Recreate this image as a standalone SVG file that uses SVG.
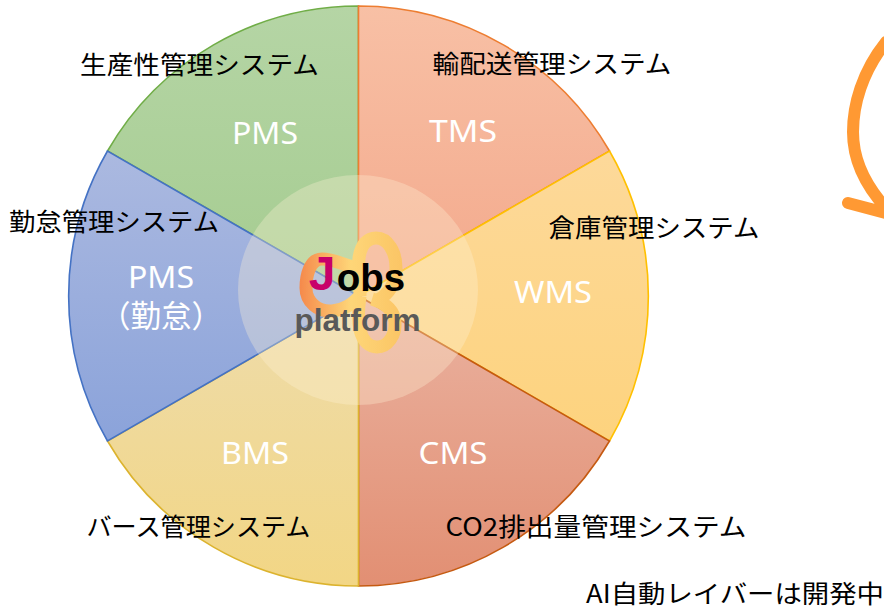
<svg xmlns="http://www.w3.org/2000/svg" width="884" height="610" viewBox="0 0 884 610">
<style>
.l{font-family:"Noto Sans CJK JP","Liberation Sans",sans-serif;font-size:25px;fill:#000;text-anchor:middle}
.s{font-family:"Noto Sans","Noto Sans CJK JP",sans-serif;font-size:31px;fill:#fff;text-anchor:middle}
.w{stroke-width:1.6}
</style>
<defs>
<linearGradient id="g1" x1="0" y1="0" x2="0" y2="1"><stop offset="0" stop-color="#b5d5a5"/><stop offset="1" stop-color="#a5cc90"/></linearGradient>
<linearGradient id="g2" x1="0" y1="0" x2="0" y2="1"><stop offset="0" stop-color="#f8c0a5"/><stop offset="1" stop-color="#f3a98c"/></linearGradient>
<linearGradient id="g3" x1="0" y1="0" x2="0" y2="1"><stop offset="0" stop-color="#fdd99a"/><stop offset="1" stop-color="#fdd37e"/></linearGradient>
<linearGradient id="g4" x1="0" y1="0" x2="0" y2="1"><stop offset="0" stop-color="#eab2a0"/><stop offset="1" stop-color="#e28f73"/></linearGradient>
<linearGradient id="g5" x1="0" y1="0" x2="0" y2="1"><stop offset="0" stop-color="#eedcab"/><stop offset="1" stop-color="#f2d685"/></linearGradient>
<linearGradient id="g6" x1="0" y1="0" x2="0" y2="1"><stop offset="0" stop-color="#abb9e0"/><stop offset="1" stop-color="#8ba3da"/></linearGradient>
<linearGradient id="kn" gradientUnits="userSpaceOnUse" x1="300" y1="0" x2="402" y2="0"><stop offset="0" stop-color="#f58a4c"/><stop offset="0.5" stop-color="#fed678"/><stop offset="1" stop-color="#fbc565"/></linearGradient>
<filter id="soft" x="-10%" y="-10%" width="120%" height="120%"><feGaussianBlur stdDeviation="0.7"/></filter>
</defs>
<g id="pie">
<path id="seg-pms" class="w" d="M358.500 296V6A290 290 0 0 0 107.500 151Z" fill="url(#g1)" stroke="#70ad47"/>
<path id="seg-tms" class="w" d="M358.500 296V6A290 290 0 0 1 609.500 151Z" fill="url(#g2)" stroke="#ed7d31"/>
<path id="seg-wms" class="w" d="M358.500 296L609.500 151A290 290 0 0 1 609.500 441Z" fill="url(#g3)" stroke="#ffc000"/>
<path id="seg-cms" class="w" d="M358.500 296L609.500 441A290 290 0 0 1 358.500 586Z" fill="url(#g4)" stroke="#c55a11"/>
<path id="seg-bms" class="w" d="M358.500 296V586A290 290 0 0 1 107.500 441Z" fill="url(#g5)" stroke="#dcb32e"/>
<path id="seg-att" class="w" d="M358.500 296L107.500 441A290 290 0 0 1 107.500 151Z" fill="url(#g6)" stroke="#4472c4"/>
</g>
<ellipse id="hub" cx="358" cy="290" rx="120" ry="115" fill="#fff4d6" fill-opacity="0.32"/>
<g id="knot" fill="none" stroke="url(#kn)" stroke-width="13" filter="url(#soft)">
<path d="M358 268C345 266 335 259 322 259C310 259 306 275 306 288C306 302 318 312 332 311C345 310 353 303 360 296"/>
<path d="M360 296C360 280 358 270 359 258C361 244 368 238 376 238C388 238 396 252 396 268C396 282 390 293 378 300"/>
<path d="M360 296C358 310 358 322 360 330C363 342 370 347 377 347C388 347 396 335 395 322C394 310 385 303 372 299"/>
</g>
<g id="labels">
<text class="l" x="199.500" y="74" textLength="239" lengthAdjust="spacingAndGlyphs">生産性管理システム</text>
<text class="l" x="552" y="73" textLength="239" lengthAdjust="spacingAndGlyphs">輸配送管理システム</text>
<text class="l" x="114" y="231" textLength="210" lengthAdjust="spacingAndGlyphs">勤怠管理システム</text>
<text class="l" x="654" y="237" textLength="211" lengthAdjust="spacingAndGlyphs">倉庫管理システム</text>
<text class="l" x="198.500" y="536" textLength="224" lengthAdjust="spacingAndGlyphs">バース管理システム</text>
<text class="l" x="596" y="536" textLength="301" lengthAdjust="spacingAndGlyphs">CO2排出量管理システム</text>
<text class="l" x="735" y="603" textLength="298" lengthAdjust="spacingAndGlyphs">AI自動レイバーは開発中</text>
<text class="s" x="265" y="144" textLength="66" lengthAdjust="spacingAndGlyphs">PMS</text>
<text class="s" x="463" y="142" textLength="68" lengthAdjust="spacingAndGlyphs">TMS</text>
<text class="s" x="553" y="303" textLength="78" lengthAdjust="spacingAndGlyphs">WMS</text>
<text class="s" x="453" y="464" textLength="69" lengthAdjust="spacingAndGlyphs">CMS</text>
<text class="s" x="255" y="464" textLength="68" lengthAdjust="spacingAndGlyphs">BMS</text>
<text class="s" x="161" y="288" textLength="66" lengthAdjust="spacingAndGlyphs">PMS</text>
<text class="s" x="161" y="327" textLength="122" lengthAdjust="spacingAndGlyphs">（勤怠）</text>
</g>
<g id="logo" text-anchor="middle" font-weight="700">
<text x="322" y="290" font-family="Liberation Sans,sans-serif" font-size="48" fill="#c8006a">J</text>
<text x="371" y="291" font-family="Liberation Sans,sans-serif" font-size="38.500" fill="#000">obs</text>
<text x="357.500" y="331" font-family="Liberation Sans,sans-serif" font-size="31.500" fill="#595959">platform</text>
</g>
<path id="arrow" d="M886 42C862 72 853 105 853 132C853 160 866 186 886 208M848 203L886 213" fill="none" stroke="#ff9933" stroke-width="12" stroke-linecap="round"/>
</svg>
